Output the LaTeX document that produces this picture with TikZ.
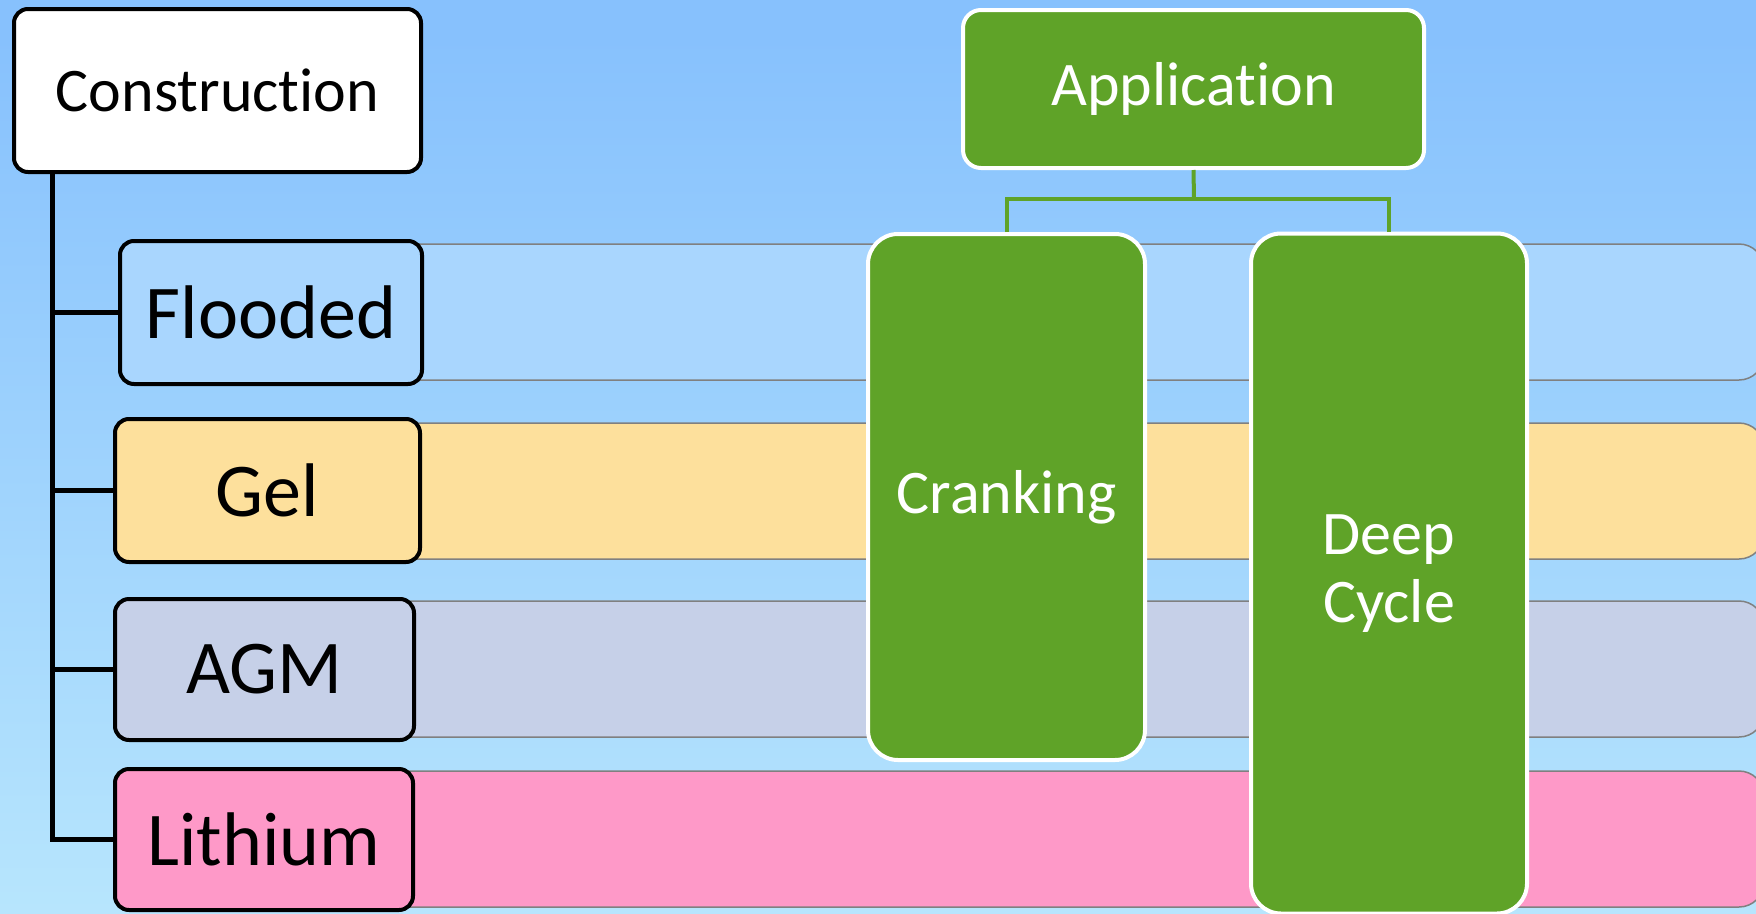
\documentclass[tikz,border=0pt]{standalone}
\usepackage{fontspec}
\setmainfont{Carlito}[Ligatures={NoCommon,NoDiscretionary}]
\definecolor{bgtop}{HTML}{87C1FD}
\definecolor{bgmid}{HTML}{C5F0FD}
\definecolor{bgbot}{HTML}{DAEDF9}
\definecolor{floodc}{HTML}{A9D6FE}
\definecolor{gelc}{HTML}{FDE09C}
\definecolor{agmc}{HTML}{C6D0E8}
\definecolor{lithc}{HTML}{FE99C8}
\definecolor{greenc}{HTML}{5FA328}
\definecolor{bandline}{HTML}{808080}
\pgfdeclareverticalshading{bgshade}{100bp}{color(0bp)=(bgbot); color(11bp)=(bgmid); color(73bp)=(bgtop); color(100bp)=(bgtop)}
\tikzset{
  band/.style={draw=bandline, line width=1.5pt, rounded corners=25pt},
  catbox/.style={draw=black, line width=4pt, rounded corners=14pt, inner sep=0pt,
    font=\fontsize{76}{80}\selectfont},
  treeline/.style={draw=black, line width=5pt},
  greenbox/.style={draw=white, line width=4pt, fill=greenc, text=white, inner sep=0pt,
    align=center, font=\fontsize{62}{68}\selectfont},
  greenline/.style={draw=greenc, line width=4pt},
}
\begin{document}
\begin{tikzpicture}[x=1pt,y=-1pt]
\useasboundingbox (0,0) rectangle (1756,913);
\shade[shading=bgshade] (0,0) rectangle (1756,913);
% bands
\draw[band, fill=floodc] (380,244) rectangle (1764,380);
\draw[band, fill=gelc] (380,423) rectangle (1764,559);
\draw[band, fill=agmc] (380,601) rectangle (1764,737);
\draw[band, fill=lithc] (380,771) rectangle (1764,907);
% construction tree
\node[catbox, fill=white, minimum width=407pt, minimum height=163pt, font=\fontsize{62}{68}\selectfont] (constr) at (217.5,90.5) {Construction};
\node[catbox, fill=floodc, minimum width=302pt, minimum height=143pt] (flooded) at (271,312.5) {Flooded};
\node[catbox, fill=gelc, minimum width=305pt, minimum height=143pt] (gel) at (267.5,490.5) {Gel};
\node[catbox, fill=agmc, minimum width=299pt, minimum height=141pt] (agm) at (264.5,669.5) {AGM};
\node[catbox, fill=lithc, minimum width=298pt, minimum height=141pt] (lith) at (264,839.5) {Lithium};
\coordinate (trunkend) at (52,840);
\draw[treeline] (constr.south -| trunkend) -- (trunkend);
\draw[treeline] (flooded.west) -- (flooded.west -| trunkend);
\draw[treeline] (gel.west) -- (gel.west -| trunkend);
\draw[treeline] (agm.west) -- (agm.west -| trunkend);
\draw[treeline, line cap=rect] (lith.west) -- (lith.west -| trunkend);
% application tree
\node[greenbox, rounded corners=18pt, minimum width=461pt, minimum height=158pt] (app) at (1193.5,89) {Application};
\node[greenbox, rounded corners=30pt, minimum width=277pt, minimum height=526pt] (crank) at (1006.5,497) {Cranking};
\node[greenbox, rounded corners=30pt, minimum width=276pt, minimum height=680pt] (deep) at (1389,573.5) {Deep\\Cycle};
\coordinate (bar) at (1194,199);
\draw[greenline] (app.south) -- (bar);
\draw[greenline] (crank.north) -- (crank.north |- bar) -- (deep.north |- bar) -- (deep.north);
\end{tikzpicture}
\end{document}
